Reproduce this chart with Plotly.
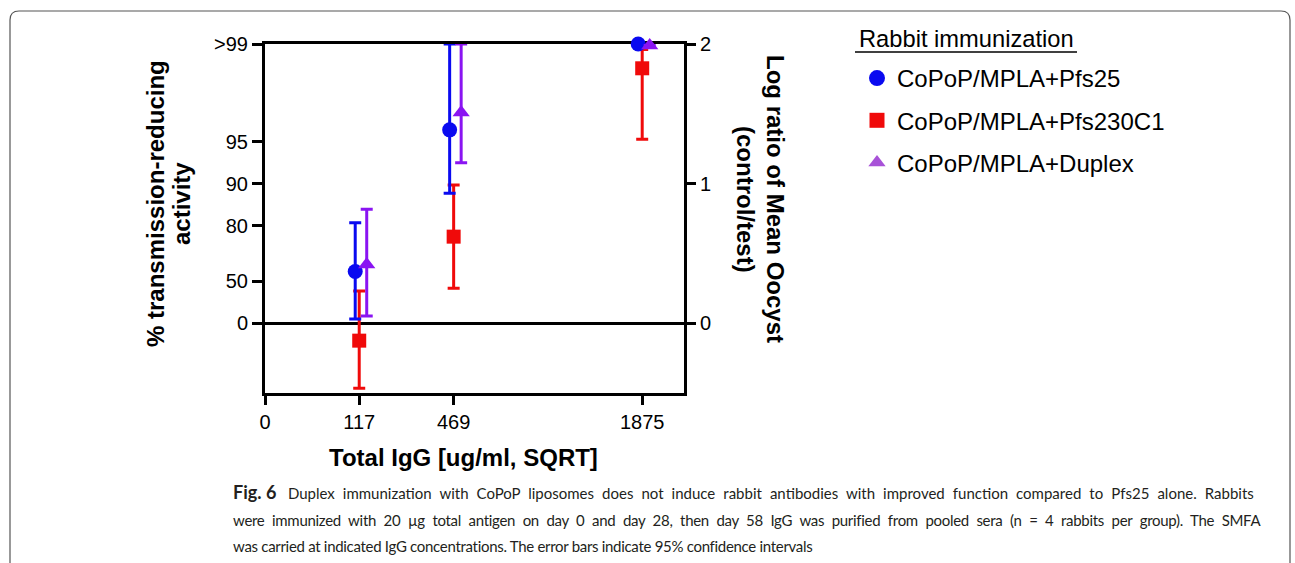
import math
import plotly.graph_objects as go

# ---------------- data ----------------
conc = [117, 469, 1875]                      # total IgG, ug/ml
x_ticks = [0, 117, 469, 1875]
pct_ticks = [0, 50, 80, 90, 95, 99]          # % transmission-reducing activity
pct_labels = ["0", "50", "80", "90", "95", ">99"]
log_ticks = [0, 1, 2]

series_names = ["CoPoP/MPLA+Pfs25", "CoPoP/MPLA+Pfs230C1", "CoPoP/MPLA+Duplex"]
pfs25 = [0.37, 1.385, 2.0]
pfs25_hi = [0.72, 2.0, 2.0]
pfs25_lo = [0.03, 0.93, 2.0]
pfs230 = [-0.125, 0.62, 1.826]
pfs230_hi = [0.231, 0.99, 1.96]
pfs230_lo = [-0.466, 0.25, 1.318]
duplex = [0.42, 1.51, 1.99]
duplex_hi = [0.817, 2.0, 2.0]
duplex_lo = [0.052, 1.15, 1.99]

# ---------------- layout geometry (pixels) ----------------
W, H = 1295, 563
PL, PR, PT, PB = 265, 684, 44, 393


def px(xp):
    return (xp - PL) / (PR - PL)


def py(yp):
    return (PB - yp) / (PB - PT)


XMAX = 48.1           # sqrt(ug/ml) at right spine
unit_px = (PR - PL) / XMAX
nudges = {"Pfs25": -4 / unit_px, "Pfs230": 0.0, "Duplex": 7.5 / unit_px}

BLUE = "#0A0AF0"
RED = "#F00A0A"
VIOLET = "#8A14F2"
VIOLET_LEG = "#A852D8"
FONT = "Liberation Sans, Arial, sans-serif"

fig = go.Figure()


def add_series(vals, hi, lo, color, symbol, size, nudge, name):
    xs = [math.sqrt(c) + nudge for c in conc]
    fig.add_trace(go.Scatter(
        x=xs, y=vals, mode="markers", name=name, showlegend=False,
        marker=dict(color=color, symbol=symbol, size=size, line=dict(width=0)),
        error_y=dict(type="data", symmetric=False,
                     array=[h - v for h, v in zip(hi, vals)],
                     arrayminus=[v - l for v, l in zip(vals, lo)],
                     color=color, thickness=3, width=6),
        cliponaxis=False,
    ))


add_series(pfs230, pfs230_hi, pfs230_lo, RED, "square", 14, nudges["Pfs230"], series_names[1])
add_series(pfs25, pfs25_hi, pfs25_lo, BLUE, "circle", 15, nudges["Pfs25"], series_names[0])
add_series(duplex, duplex_hi, duplex_lo, VIOLET, "triangle-up", 15, nudges["Duplex"], series_names[2])

# legend-only entries
for nm, col, sym, sz in [(series_names[0], BLUE, "circle", 16),
                         (series_names[1], RED, "square", 15),
                         (series_names[2], VIOLET_LEG, "triangle-up", 15)]:
    fig.add_trace(go.Scatter(x=[None], y=[None], mode="markers", name=nm,
                             legendgroup=nm, showlegend=True,
                             marker=dict(color=col, symbol=sym, size=sz)))

# dummy trace to activate right axis
fig.add_trace(go.Scatter(x=[None], y=[None], yaxis="y2", showlegend=False))

tick_font = dict(family=FONT, size=20, color="black")

fig.update_layout(
    width=W, height=H,
    margin=dict(l=PL, r=W - PR, t=PT, b=H - PB, autoexpand=False),
    paper_bgcolor="white", plot_bgcolor="white",
    font=dict(family=FONT, color="black"),
    xaxis=dict(range=[0, XMAX], tickvals=[math.sqrt(v) for v in x_ticks],
               ticktext=[str(v) for v in x_ticks], ticks="outside", ticklen=9,
               tickwidth=3, tickcolor="black", showline=True, linewidth=3,
               linecolor="black", mirror=True, showgrid=False, zeroline=False,
               tickfont=tick_font, layer="below traces"),
    yaxis=dict(range=[-0.5, 2.0],
               tickvals=[math.log10(1 / (1 - p / 100)) for p in pct_ticks],
               ticktext=pct_labels, ticks="outside", ticklen=10, tickwidth=3,
               tickcolor="black", showline=True, linewidth=3, linecolor="black",
               showgrid=False, zeroline=True, zerolinecolor="black",
               zerolinewidth=3, tickfont=tick_font, layer="below traces"),
    yaxis2=dict(range=[-0.5, 2.0], overlaying="y", side="right",
                tickvals=log_ticks, ticktext=[str(v) for v in log_ticks],
                ticks="outside", ticklen=9, tickwidth=3, tickcolor="black",
                showline=True, linewidth=3, linecolor="black", showgrid=False,
                zeroline=False, tickfont=tick_font, layer="below traces"),
    legend=dict(x=px(857), y=py(56), xanchor="left", yanchor="top",
                bgcolor="rgba(0,0,0,0)", traceorder="grouped", tracegroupgap=8,
                font=dict(size=24, family=FONT)),
    showlegend=True,
)

bold = dict(family=FONT, size=24, color="black")


def ann(text, xp, yp, angle=0, font=bold, xanchor="center"):
    return dict(text=text, textangle=angle, x=px(xp), y=py(yp), xref="paper",
                yref="paper", showarrow=False, font=font, xanchor=xanchor,
                yanchor="middle", align="left")


annotations = [
    ann("<b>% transmission-reducing</b>", 155, 204, -90),
    ann("<b>activity</b>", 181, 204, -90),
    ann("<b>Log ratio of Mean Oocyst</b>", 776, 199, 90),
    ann("<b>(control/test)</b>", 746, 199, 90),
    ann("<b>Total IgG [ug/ml, SQRT]</b>", 463, 457),
    ann("Rabbit immunization", 857, 39, 0,
        dict(family=FONT, size=23.7, color="black"), "left"),
]
cap_font = dict(family="Lato, sans-serif", size=15, color="#231f20")
caption = [
    "<b><span style='font-size:18px'>Fig.\u00a06</span></b>\u00a0\u00a0\u00a0<span style='word-spacing:4.2px'>Duplex immunization with CoPoP liposomes does not induce rabbit antibodies with improved function compared to Pfs25 alone. Rabbits</span>",
    "<span style='letter-spacing:-0.3px;word-spacing:4px'>were immunized with 20 µg total antigen on day 0 and day 28, then day 58 IgG was purified from pooled sera (n = 4 rabbits per group). The SMFA</span>",
    "<span style='letter-spacing:-0.3px'>was carried at indicated IgG concentrations. The error bars indicate 95% confidence intervals</span>",
]
for line, yy in zip(caption, [492, 520, 546]):
    annotations.append(ann(line, 231, yy, 0, cap_font, "left"))
fig.update_layout(annotations=annotations)

# legend title underline and frame
shapes = [
    dict(type="line", xref="paper", yref="paper", x0=px(855), x1=px(1077),
         y0=py(52), y1=py(52), line=dict(color="black", width=1.5)),
]
r = 9
path = (f"M {px(10)},{py(600)} L {px(10)},{py(11 + r)} "
        f"Q {px(10)},{py(11)} {px(10 + r)},{py(11)} "
        f"L {px(1290 - r)},{py(11)} Q {px(1290)},{py(11)} {px(1290)},{py(11 + r)} "
        f"L {px(1290)},{py(600)}")
shapes.append(dict(type="path", xref="paper", yref="paper", path=path,
                   line=dict(color="#555555", width=1.2)))
fig.update_layout(shapes=shapes)

fig.write_html("out.html", config={"displayModeBar": False},
               post_script="document.body.style.margin='0px';document.body.style.overflow='hidden';")
